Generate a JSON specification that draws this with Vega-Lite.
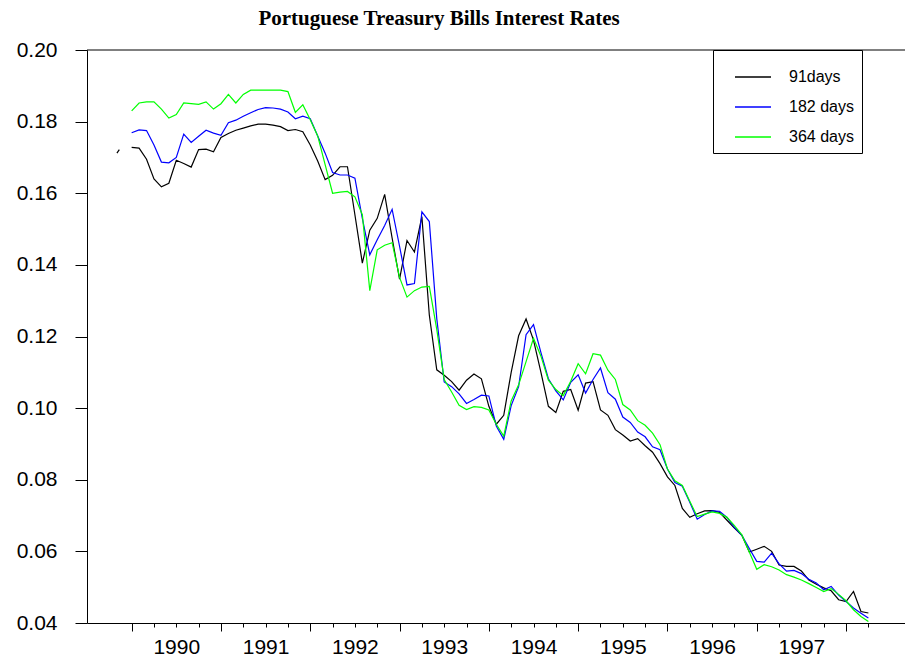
{
"$schema": "https://vega.github.io/schema/vega-lite/v6.json",
"width": 818, "height": 573,
"autosize": "none",
"padding": {"left": 87, "top": 50, "right": 0, "bottom": 41},
"background": "white",
"config": {"view": {"stroke": null}, "font": "Liberation Sans"},
"title": {"text": "Portuguese Treasury Bills Interest Rates", "font": "Liberation Serif", "fontSize": 21, "fontWeight": "bold", "color": "black", "anchor": "middle", "frame": "group", "dx": -57, "offset": 10},
"layer": [
{
"data": {"values": [
{"t":1989.835,"91days":0.1712},
{"t":1989.862,"91days":0.1722},
{"t":1989.917,"91days":null},
{"t":1990,"91days":0.1728,"182 days":0.1769,"364 days":0.183},
{"t":1990.0833,"91days":0.1726,"182 days":0.1777,"364 days":0.1852},
{"t":1990.1667,"91days":0.1695,"182 days":0.1775,"364 days":0.1855},
{"t":1990.25,"91days":0.164,"182 days":0.1735,"364 days":0.1855},
{"t":1990.3333,"91days":0.1618,"182 days":0.1687,"364 days":0.1835},
{"t":1990.4167,"91days":0.1628,"182 days":0.1685,"364 days":0.181},
{"t":1990.5,"91days":0.1692,"182 days":0.170,"364 days":0.182},
{"t":1990.5833,"91days":0.1683,"182 days":0.1765,"364 days":0.1852},
{"t":1990.6667,"91days":0.1673,"182 days":0.1742,"364 days":0.185},
{"t":1990.75,"91days":0.1722,"182 days":0.1759,"364 days":0.1848},
{"t":1990.8333,"91days":0.1723,"182 days":0.1776,"364 days":0.1855},
{"t":1990.9167,"91days":0.1716,"182 days":0.1768,"364 days":0.1835},
{"t":1991,"91days":0.1756,"182 days":0.1762,"364 days":0.185},
{"t":1991.0833,"91days":0.1767,"182 days":0.1797,"364 days":0.1876},
{"t":1991.1667,"91days":0.1776,"182 days":0.1804,"364 days":0.1852},
{"t":1991.25,"91days":0.1782,"182 days":0.1815,"364 days":0.1876},
{"t":1991.3333,"91days":0.1788,"182 days":0.1825,"364 days":0.1888},
{"t":1991.4167,"91days":0.1793,"182 days":0.1834,"364 days":0.1888},
{"t":1991.5,"91days":0.1793,"182 days":0.1839,"364 days":0.1888},
{"t":1991.5833,"91days":0.179,"182 days":0.1838,"364 days":0.1888},
{"t":1991.6667,"91days":0.1786,"182 days":0.1835,"364 days":0.1888},
{"t":1991.75,"91days":0.1775,"182 days":0.1827,"364 days":0.1884},
{"t":1991.8333,"91days":0.1778,"182 days":0.1808,"364 days":0.1826},
{"t":1991.9167,"91days":0.1772,"182 days":0.1815,"364 days":0.1847},
{"t":1992,"91days":0.1735,"182 days":0.1808,"364 days":0.1805},
{"t":1992.0833,"91days":0.169,"182 days":0.176,"364 days":0.176},
{"t":1992.1667,"91days":0.1638,"182 days":0.1712,"364 days":0.168},
{"t":1992.25,"91days":0.165,"182 days":0.1658,"364 days":0.160},
{"t":1992.3333,"91days":0.1674,"182 days":0.1651,"364 days":0.1603},
{"t":1992.4167,"91days":0.1674,"182 days":0.1651,"364 days":0.1605},
{"t":1992.5,"91days":0.154,"182 days":0.1642,"364 days":0.159},
{"t":1992.5833,"91days":0.1405,"182 days":0.153,"364 days":0.154},
{"t":1992.6667,"91days":0.1497,"182 days":0.1428,"364 days":0.1328},
{"t":1992.75,"91days":0.153,"182 days":0.147,"364 days":0.1442},
{"t":1992.8333,"91days":0.1597,"182 days":0.151,"364 days":0.1455},
{"t":1992.9167,"91days":0.1475,"182 days":0.1555,"364 days":0.1462},
{"t":1993,"91days":0.136,"182 days":0.1452,"364 days":0.1365},
{"t":1993.0833,"91days":0.1468,"182 days":0.1344,"364 days":0.131},
{"t":1993.1667,"91days":0.1436,"182 days":0.1348,"364 days":0.1328},
{"t":1993.25,"91days":0.1535,"182 days":0.1548,"364 days":0.1338},
{"t":1993.3333,"91days":0.126,"182 days":0.1521,"364 days":0.134},
{"t":1993.4167,"91days":0.1107,"182 days":0.125,"364 days":0.122},
{"t":1993.5,"91days":0.1092,"182 days":0.1073,"364 days":0.108},
{"t":1993.5833,"91days":0.1074,"182 days":0.106,"364 days":0.1045},
{"t":1993.6667,"91days":0.105,"182 days":0.104,"364 days":0.1008},
{"t":1993.75,"91days":0.1078,"182 days":0.1013,"364 days":0.0996},
{"t":1993.8333,"91days":0.1095,"182 days":0.1024,"364 days":0.1004},
{"t":1993.9167,"91days":0.1082,"182 days":0.1036,"364 days":0.1002},
{"t":1994,"91days":0.1005,"182 days":0.1034,"364 days":0.0995},
{"t":1994.0833,"91days":0.0955,"182 days":0.095,"364 days":0.0955},
{"t":1994.1667,"91days":0.098,"182 days":0.0913,"364 days":0.0922},
{"t":1994.25,"91days":0.110,"182 days":0.1007,"364 days":0.102},
{"t":1994.3333,"91days":0.1202,"182 days":0.106,"364 days":0.1065},
{"t":1994.4167,"91days":0.1249,"182 days":0.1205,"364 days":0.113},
{"t":1994.5,"91days":0.119,"182 days":0.1233,"364 days":0.1195},
{"t":1994.5833,"91days":0.110,"182 days":0.1155,"364 days":0.1145},
{"t":1994.6667,"91days":0.1005,"182 days":0.1082,"364 days":0.1078},
{"t":1994.75,"91days":0.0988,"182 days":0.1048,"364 days":0.1052},
{"t":1994.8333,"91days":0.1047,"182 days":0.1023,"364 days":0.1035},
{"t":1994.9167,"91days":0.1052,"182 days":0.1072,"364 days":0.1075},
{"t":1995,"91days":0.0994,"182 days":0.1093,"364 days":0.1124},
{"t":1995.0833,"91days":0.107,"182 days":0.1042,"364 days":0.1096},
{"t":1995.1667,"91days":0.1074,"182 days":0.108,"364 days":0.1152},
{"t":1995.25,"91days":0.0995,"182 days":0.1112,"364 days":0.1148},
{"t":1995.3333,"91days":0.098,"182 days":0.1043,"364 days":0.1106},
{"t":1995.4167,"91days":0.094,"182 days":0.1025,"364 days":0.108},
{"t":1995.5,"91days":0.0925,"182 days":0.0975,"364 days":0.101},
{"t":1995.5833,"91days":0.0908,"182 days":0.096,"364 days":0.0995},
{"t":1995.6667,"91days":0.0915,"182 days":0.0933,"364 days":0.0965},
{"t":1995.75,"91days":0.0895,"182 days":0.092,"364 days":0.0952},
{"t":1995.8333,"91days":0.0877,"182 days":0.0892,"364 days":0.093},
{"t":1995.9167,"91days":0.0845,"182 days":0.0884,"364 days":0.0898},
{"t":1996,"91days":0.0808,"182 days":0.083,"364 days":0.083},
{"t":1996.0833,"91days":0.0784,"182 days":0.0792,"364 days":0.0797},
{"t":1996.1667,"91days":0.072,"182 days":0.0782,"364 days":0.0784},
{"t":1996.25,"91days":0.0695,"182 days":0.0737,"364 days":0.074},
{"t":1996.3333,"91days":0.0705,"182 days":0.069,"364 days":0.0697},
{"t":1996.4167,"91days":0.0713,"182 days":0.0703,"364 days":0.0704},
{"t":1996.5,"91days":0.0714,"182 days":0.0713,"364 days":0.071},
{"t":1996.5833,"91days":0.0709,"182 days":0.0712,"364 days":0.0706},
{"t":1996.6667,"91days":0.0687,"182 days":0.0695,"364 days":0.0695},
{"t":1996.75,"91days":0.0665,"182 days":0.0667,"364 days":0.0672},
{"t":1996.8333,"91days":0.0645,"182 days":0.0645,"364 days":0.0646},
{"t":1996.9167,"91days":0.0598,"182 days":0.0608,"364 days":0.0598},
{"t":1997,"91days":0.0606,"182 days":0.0572,"364 days":0.055},
{"t":1997.0833,"91days":0.0614,"182 days":0.057,"364 days":0.0563},
{"t":1997.1667,"91days":0.060,"182 days":0.0595,"364 days":0.0557},
{"t":1997.25,"91days":0.0562,"182 days":0.0565,"364 days":0.0548},
{"t":1997.3333,"91days":0.0558,"182 days":0.0545,"364 days":0.0535},
{"t":1997.4167,"91days":0.0558,"182 days":0.0547,"364 days":0.0528},
{"t":1997.5,"91days":0.0545,"182 days":0.0538,"364 days":0.052},
{"t":1997.5833,"91days":0.052,"182 days":0.0522,"364 days":0.051},
{"t":1997.6667,"91days":0.0508,"182 days":0.0512,"364 days":0.0499},
{"t":1997.75,"91days":0.0498,"182 days":0.0493,"364 days":0.0488},
{"t":1997.8333,"91days":0.049,"182 days":0.0502,"364 days":0.0496},
{"t":1997.9167,"91days":0.0465,"182 days":0.0478,"364 days":0.048},
{"t":1998,"91days":0.046,"182 days":0.046,"364 days":0.0462},
{"t":1998.0833,"91days":0.0488,"182 days":0.0442,"364 days":0.0437},
{"t":1998.1667,"91days":0.0432,"182 days":0.0427,"364 days":0.0418},
{"t":1998.25,"91days":0.0428,"182 days":0.0414,"364 days":0.0404}
]},
"transform": [{"fold": ["91days", "182 days", "364 days"], "as": ["series", "rate"]}],
"mark": {"type": "line", "strokeWidth": 1.2, "invalid": "break-paths-filter-domains"},
"encoding": {
"x": {"field": "t", "type": "quantitative",
 "scale": {"domain": [1989.5, 1998.66], "nice": false, "zero": false},
 "axis": {"title": null, "grid": false,
  "values": [1990,1990.25,1990.5,1990.75,1991,1991.25,1991.5,1991.75,1992,1992.25,1992.5,1992.75,1993,1993.25,1993.5,1993.75,1994,1994.25,1994.5,1994.75,1995,1995.25,1995.5,1995.75,1996,1996.25,1996.5,1996.75,1997,1997.25,1997.5,1997.75,1998,1998.25],
  "labelExpr": "datum.value % 1 == 0.5 ? '' + floor(datum.value) : ''",
  "tickSize": {"condition": {"test": "datum.value % 1 == 0", "value": 8}, "value": 4},
  "labelFontSize": 21, "labelFont": "Liberation Sans", "labelColor": "black",
  "labelPadding": 9, "labelOverlap": false, "labelFlush": false, "labelBound": false,
  "domainColor": "black", "tickColor": "black", "domainWidth": 1, "tickWidth": 1}},
"y": {"field": "rate", "type": "quantitative",
 "scale": {"domain": [0.04, 0.2], "nice": false, "zero": false},
 "axis": {"title": null, "grid": false,
  "values": [0.04,0.06,0.08,0.1,0.12,0.14,0.16,0.18,0.2],
  "format": ".2f", "tickSize": 12, "labelPadding": 18,
  "labelFontSize": 21, "labelFont": "Liberation Sans", "labelColor": "black",
  "domainColor": "black", "tickColor": "black", "domainWidth": 1, "tickWidth": 1}},
"color": {"field": "series", "type": "nominal",
 "scale": {"domain": ["91days", "182 days", "364 days"], "range": ["#000000", "#0000ff", "#00ff00"]},
 "legend": {"title": null, "orient": "none", "legendX": 626, "legendY": 0,
  "strokeColor": "black", "fillColor": "white", "padding": 8, "cornerRadius": 0,
  "symbolType": "stroke", "symbolSize": 1296, "symbolStrokeWidth": 1.5, "symbolOffset": 13,
  "labelOffset": 17, "labelFontSize": 16, "labelFont": "Liberation Sans", "labelColor": "black",
  "rowPadding": 3}}
}
},
{
"data": {"values": [{}]},
"mark": {"type": "rule", "color": "black", "strokeWidth": 1},
"encoding": {"y": {"datum": 0.2, "type": "quantitative"}}
}
]
}
